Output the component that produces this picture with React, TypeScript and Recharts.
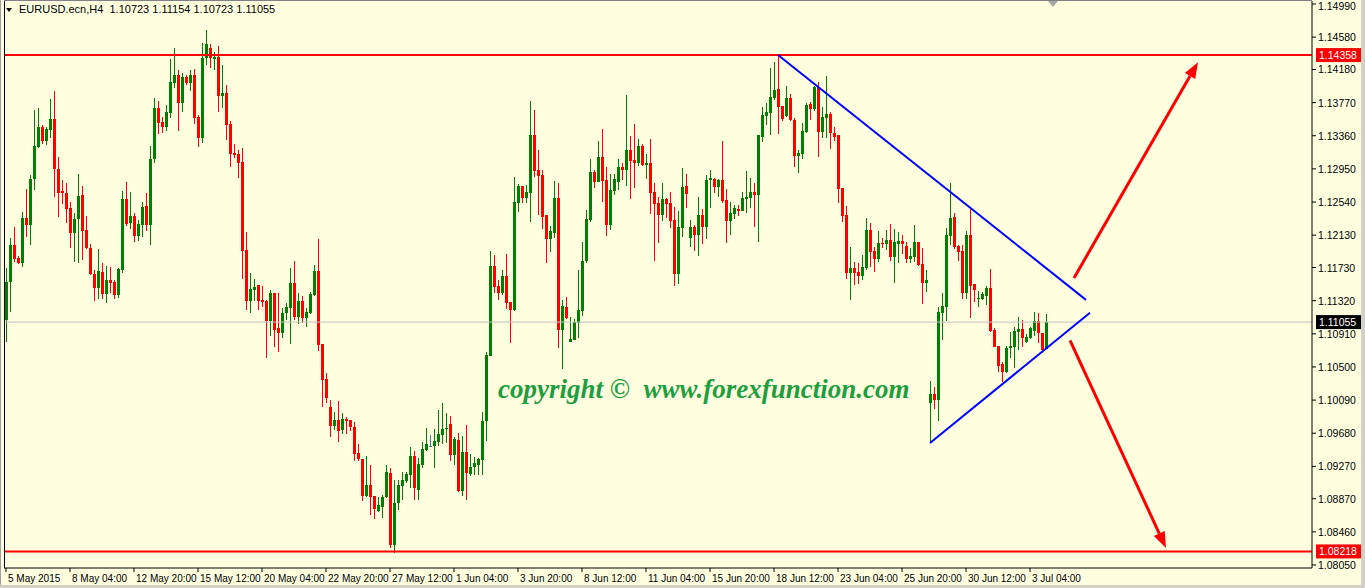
import React from 'react';
import { ComposedChart, Bar, XAxis, YAxis, ReferenceLine } from 'recharts';

// EURUSD H4, 5 May - 3 Jul 2015
const opens = [
  1.11082, 1.11552, 1.12009, 1.11849, 1.11787, 1.12343, 1.12257, 1.12826, 1.13222, 1.13469,
  1.13296, 1.13432, 1.13568, 1.12949, 1.12677, 1.12653, 1.12467, 1.12158, 1.12331, 1.12628,
  1.12195, 1.11972, 1.11651, 1.11477, 1.11675, 1.11403, 1.11576, 1.11552, 1.11391, 1.11700,
  1.12578, 1.12281, 1.12368, 1.12121, 1.12257, 1.12492, 1.12257, 1.13073, 1.13704, 1.13531,
  1.13469, 1.13642, 1.14013, 1.14112, 1.13766, 1.14088, 1.14013, 1.14112, 1.13593, 1.13333,
  1.14323, 1.14446, 1.14310, 1.14335, 1.13852, 1.13890, 1.13506, 1.13147, 1.13135, 1.13036,
  1.11947, 1.11317, 1.11453, 1.11515, 1.11329, 1.11317, 1.11069, 1.11416, 1.10983, 1.10921,
  1.11168, 1.11230, 1.11539, 1.11119, 1.11317, 1.11106, 1.11168, 1.11391, 1.11688, 1.10785,
  1.10352, 1.10005, 1.09770, 1.09845, 1.09721, 1.09857, 1.09845, 1.09758, 1.09436, 1.09362,
  1.08904, 1.09041, 1.08904, 1.08719, 1.08768, 1.08892, 1.09189, 1.08298, 1.08818, 1.09028,
  1.09090, 1.09164, 1.09399, 1.08979, 1.09288, 1.09473, 1.09523, 1.09523, 1.09572, 1.09659,
  1.09733, 1.09795, 1.09412, 1.09597, 1.08966, 1.09449, 1.09177, 1.09263, 1.09288, 1.09350,
  1.09832, 1.10636, 1.11750, 1.11502, 1.11416, 1.11626, 1.11304, 1.11205, 1.12529, 1.12739,
  1.12591, 1.12653, 1.13370, 1.12937, 1.12875, 1.12380, 1.12084, 1.12158, 1.12591, 1.10958,
  1.11242, 1.10809, 1.10834, 1.11044, 1.11193, 1.11811, 1.12319, 1.12912, 1.12789, 1.13098,
  1.12813, 1.12257, 1.12677, 1.12789, 1.12974, 1.12937, 1.13185, 1.13061, 1.13024, 1.13234,
  1.12999, 1.13024, 1.12665, 1.12529, 1.12380, 1.12578, 1.12529, 1.12319, 1.11651, 1.12220,
  1.12739, 1.12096, 1.12232, 1.12133, 1.12380, 1.12232, 1.12813, 1.12826, 1.12727, 1.12813,
  1.12566, 1.12306, 1.12393, 1.12455, 1.12430, 1.12578, 1.12591, 1.12665, 1.12628, 1.13345,
  1.13605, 1.13642, 1.13828, 1.13939, 1.13729, 1.13605, 1.13828, 1.13556, 1.13110, 1.13135,
  1.13407, 1.13754, 1.13692, 1.13964, 1.13407, 1.13580, 1.13630, 1.13395, 1.13370, 1.12714,
  1.12380, 1.11663, 1.11725, 1.11675, 1.11626, 1.11725, 1.12195, 1.11935, 1.11836, 1.12034,
  1.12022, 1.12071, 1.11861, 1.12022, 1.12059, 1.11997, 1.11836, 1.11861, 1.12046, 1.11774,
  1.11539, 1.10055, 1.10166, 1.10092, 1.11168, 1.11242, 1.12121, 1.12356, 1.11997, 1.11935,
  1.11416, 1.12133, 1.11527, 1.11341, 1.11341, 1.11378, 1.11477, 1.10958, 1.10760, 1.10537,
  1.10438, 1.10735, 1.10748, 1.10933, 1.10970, 1.10809, 1.10859, 1.10946, 1.11069, 1.10921,
  1.10723,
];

const highs = [
  1.11725, 1.12096, 1.12232, 1.11873, 1.12418, 1.12702, 1.12875, 1.13679, 1.13704, 1.13494,
  1.13469, 1.13815, 1.13914, 1.13098, 1.12813, 1.12776, 1.12541, 1.12405, 1.12888, 1.12739,
  1.12368, 1.12022, 1.11700, 1.11960, 1.11787, 1.11750, 1.11737, 1.11576, 1.11725, 1.12677,
  1.12789, 1.12665, 1.12405, 1.12319, 1.12541, 1.12653, 1.13234, 1.13828, 1.13791, 1.13593,
  1.13741, 1.14310, 1.14446, 1.14174, 1.14137, 1.14112, 1.14174, 1.14186, 1.13617, 1.14508,
  1.14669, 1.14496, 1.14397, 1.14471, 1.14236, 1.13989, 1.13543, 1.13259, 1.13184, 1.13209,
  1.12170, 1.11663, 1.11589, 1.11515, 1.11502, 1.11329, 1.11453, 1.11416, 1.11416, 1.11230,
  1.11292, 1.11725, 1.11811, 1.11416, 1.11378, 1.11230, 1.11428, 1.11762, 1.12084, 1.10785,
  1.10426, 1.10092, 1.09944, 1.10080, 1.09931, 1.09882, 1.09845, 1.09820, 1.09548, 1.09362,
  1.09399, 1.09288, 1.08904, 1.08892, 1.08917, 1.09288, 1.09251, 1.09102, 1.09102, 1.09201,
  1.09201, 1.09511, 1.09461, 1.09375, 1.09572, 1.09746, 1.09659, 1.09733, 1.09968, 1.10055,
  1.09931, 1.09894, 1.09634, 1.09684, 1.09647, 1.09783, 1.09424, 1.09387, 1.09375, 1.09944,
  1.10686, 1.11935, 1.11886, 1.11576, 1.11700, 1.11898, 1.11304, 1.12851, 1.12764, 1.12739,
  1.12752, 1.13791, 1.13679, 1.13185, 1.12937, 1.12380, 1.12244, 1.12801, 1.12776, 1.11329,
  1.11366, 1.11119, 1.11094, 1.11700, 1.12046, 1.12442, 1.13073, 1.12937, 1.13296, 1.13444,
  1.12974, 1.12888, 1.12888, 1.13073, 1.13024, 1.13865, 1.13358, 1.13506, 1.13321, 1.13259,
  1.13135, 1.13321, 1.12776, 1.12603, 1.12776, 1.12591, 1.12665, 1.12479, 1.12430, 1.12962,
  1.12888, 1.12319, 1.12257, 1.12603, 1.12455, 1.12875, 1.12937, 1.12838, 1.12826, 1.13296,
  1.12702, 1.12541, 1.12504, 1.12504, 1.12665, 1.12925, 1.12838, 1.12776, 1.13370, 1.13716,
  1.13766, 1.14199, 1.14273, 1.14355, 1.13729, 1.13976, 1.13877, 1.13580, 1.13185, 1.13518,
  1.13766, 1.13778, 1.13976, 1.14026, 1.13716, 1.14100, 1.13655, 1.13469, 1.13370, 1.12714,
  1.12492, 1.11985, 1.11799, 1.11787, 1.11886, 1.12343, 1.12281, 1.11985, 1.12183, 1.12096,
  1.12195, 1.12269, 1.12207, 1.12170, 1.12133, 1.12046, 1.11972, 1.12257, 1.12046, 1.11972,
  1.11700, 1.10327, 1.10253, 1.11242, 1.11416, 1.12220, 1.12776, 1.12405, 1.12009, 1.12009,
  1.12183, 1.12467, 1.11527, 1.11440, 1.11428, 1.11502, 1.11712, 1.10983, 1.10760, 1.10562,
  1.10760, 1.10933, 1.10995, 1.11119, 1.11082, 1.10908, 1.10995, 1.11181, 1.11168, 1.10921,
  1.11154,
];

const lows = [
  1.10809, 1.11181, 1.11799, 1.11774, 1.11737, 1.12108, 1.12009, 1.12690, 1.13209, 1.13259,
  1.13246, 1.13333, 1.12603, 1.12356, 1.12517, 1.12281, 1.11972, 1.11799, 1.11787, 1.11824,
  1.11960, 1.11638, 1.11317, 1.11341, 1.11341, 1.11292, 1.11416, 1.11341, 1.11354, 1.11663,
  1.12244, 1.12207, 1.12046, 1.12059, 1.12108, 1.12183, 1.12009, 1.13024, 1.13382, 1.13395,
  1.13420, 1.13580, 1.13951, 1.13420, 1.13655, 1.13989, 1.13914, 1.13506, 1.13222, 1.13271,
  1.14236, 1.14199, 1.14174, 1.13655, 1.13704, 1.13308, 1.12974, 1.13086, 1.12838, 1.11589,
  1.11205, 1.11168, 1.11317, 1.11205, 1.11242, 1.10612, 1.10884, 1.10748, 1.10686, 1.10859,
  1.11082, 1.10785, 1.11082, 1.11032, 1.11044, 1.10995, 1.11156, 1.11378, 1.10698, 1.10005,
  1.10055, 1.09634, 1.09721, 1.09572, 1.09671, 1.09671, 1.09709, 1.09337, 1.09337, 1.08843,
  1.08892, 1.08669, 1.08620, 1.08707, 1.08632, 1.08880, 1.08261, 1.08195, 1.08731, 1.08855,
  1.09065, 1.09003, 1.08855, 1.08855, 1.09251, 1.09461, 1.09511, 1.09251, 1.09523, 1.09548,
  1.09560, 1.09337, 1.09288, 1.08954, 1.08904, 1.08855, 1.09152, 1.09164, 1.09164, 1.09164,
  1.09585, 1.10636, 1.11416, 1.11329, 1.11391, 1.11218, 1.10797, 1.11193, 1.12418, 1.12529,
  1.12529, 1.12294, 1.12851, 1.12380, 1.12207, 1.11787, 1.11923, 1.12096, 1.10735, 1.10475,
  1.11094, 1.10809, 1.10834, 1.10859, 1.11131, 1.11787, 1.12294, 1.12714, 1.12789, 1.12541,
  1.12121, 1.12195, 1.12628, 1.12690, 1.12813, 1.12739, 1.12578, 1.12714, 1.12987, 1.12987,
  1.12826, 1.12393, 1.11811, 1.12034, 1.12306, 1.12343, 1.12220, 1.11502, 1.11527, 1.12108,
  1.12467, 1.11985, 1.11935, 1.11873, 1.12022, 1.12084, 1.12467, 1.12653, 1.12603, 1.12529,
  1.12034, 1.12133, 1.12331, 1.12368, 1.12430, 1.12405, 1.12467, 1.12232, 1.12046, 1.13283,
  1.13494, 1.13370, 1.13803, 1.13382, 1.13543, 1.13593, 1.13543, 1.12974, 1.12900, 1.13073,
  1.13395, 1.13556, 1.13667, 1.13098, 1.13333, 1.13333, 1.13197, 1.13296, 1.12529, 1.12294,
  1.11589, 1.11329, 1.11515, 1.11527, 1.11576, 1.11700, 1.11737, 1.11675, 1.11799, 1.11972,
  1.11947, 1.11811, 1.11539, 1.11787, 1.11898, 1.11787, 1.11787, 1.11799, 1.11750, 1.11280,
  1.11428, 1.09560, 1.09981, 1.09832, 1.10834, 1.11069, 1.12009, 1.11960, 1.11811, 1.11341,
  1.11341, 1.11106, 1.11304, 1.11242, 1.11329, 1.11267, 1.10933, 1.10748, 1.10438, 1.10315,
  1.10426, 1.10612, 1.10488, 1.10710, 1.10748, 1.10797, 1.10847, 1.10884, 1.10797, 1.10673,
  1.10723,
];

const closes = [
  1.11552, 1.12009, 1.11836, 1.11787, 1.12343, 1.12257, 1.12826, 1.13234, 1.13469, 1.13296,
  1.13444, 1.13568, 1.12949, 1.12653, 1.12653, 1.12455, 1.12158, 1.12331, 1.12615, 1.12183,
  1.11972, 1.11651, 1.11477, 1.11688, 1.11403, 1.11576, 1.11539, 1.11391, 1.11712, 1.12578,
  1.12269, 1.12368, 1.12121, 1.12269, 1.12479, 1.12257, 1.13073, 1.13704, 1.13518, 1.13469,
  1.13655, 1.14026, 1.14112, 1.13766, 1.14088, 1.14013, 1.14112, 1.13580, 1.13333, 1.14323,
  1.14496, 1.14323, 1.14335, 1.13852, 1.13890, 1.13494, 1.13135, 1.13123, 1.13024, 1.11935,
  1.11317, 1.11465, 1.11490, 1.11317, 1.11304, 1.11069, 1.11416, 1.10958, 1.10921, 1.11168,
  1.11242, 1.11539, 1.11119, 1.11317, 1.11106, 1.11181, 1.11403, 1.11688, 1.10772, 1.10339,
  1.10117, 1.09770, 1.09845, 1.09709, 1.09857, 1.09832, 1.09758, 1.09424, 1.09362, 1.08904,
  1.09041, 1.08892, 1.08744, 1.08793, 1.08892, 1.09201, 1.08298, 1.08818, 1.09041, 1.09102,
  1.09177, 1.09399, 1.09003, 1.09300, 1.09486, 1.09548, 1.09523, 1.09585, 1.09671, 1.09733,
  1.09746, 1.09412, 1.09610, 1.08966, 1.09449, 1.09189, 1.09263, 1.09313, 1.09362, 1.09832,
  1.10649, 1.11750, 1.11490, 1.11416, 1.11626, 1.11292, 1.11205, 1.12541, 1.12739, 1.12591,
  1.12665, 1.13370, 1.12925, 1.12863, 1.12356, 1.12084, 1.12183, 1.12591, 1.10958, 1.11255,
  1.11106, 1.10847, 1.11057, 1.11205, 1.11811, 1.12331, 1.12912, 1.12789, 1.13098, 1.12801,
  1.12257, 1.12690, 1.12826, 1.12974, 1.12937, 1.13185, 1.13048, 1.13024, 1.13234, 1.12999,
  1.13024, 1.12653, 1.12517, 1.12380, 1.12578, 1.12517, 1.12306, 1.11651, 1.12232, 1.12727,
  1.12640, 1.12232, 1.12133, 1.12380, 1.12232, 1.12813, 1.12838, 1.12727, 1.12813, 1.12554,
  1.12306, 1.12405, 1.12467, 1.12430, 1.12591, 1.12603, 1.12665, 1.12628, 1.13370, 1.13617,
  1.13655, 1.13840, 1.13927, 1.13716, 1.13568, 1.13828, 1.13556, 1.13110, 1.13147, 1.13420,
  1.13741, 1.13692, 1.13964, 1.13407, 1.13593, 1.13630, 1.13395, 1.13345, 1.12702, 1.12368,
  1.11663, 1.11725, 1.11663, 1.11626, 1.11737, 1.12195, 1.11923, 1.11836, 1.12034, 1.12022,
  1.12071, 1.11861, 1.12046, 1.12059, 1.12022, 1.11836, 1.11873, 1.12046, 1.11762, 1.11539,
  1.11576, 1.10166, 1.10092, 1.11181, 1.11255, 1.12133, 1.12343, 1.11985, 1.11923, 1.11416,
  1.12133, 1.11502, 1.11453, 1.11354, 1.11403, 1.11477, 1.10946, 1.10748, 1.10513, 1.10438,
  1.10735, 1.10760, 1.10946, 1.10970, 1.10859, 1.10871, 1.10983, 1.11069, 1.10921, 1.10710,
  1.11055,
];

const timeLabels = [
  '5 May 2015', '8 May 04:00', '12 May 20:00', '15 May 12:00', '20 May 04:00', '22 May 20:00',
  '27 May 12:00', '1 Jun 04:00', '3 Jun 20:00', '8 Jun 12:00', '11 Jun 04:00', '15 Jun 20:00',
  '18 Jun 12:00', '23 Jun 04:00', '25 Jun 20:00', '30 Jun 12:00', '3 Jul 04:00',
];
const timeLabelBars = [0, 16, 32, 48, 64, 80, 96, 112, 128, 144, 160, 176, 192, 208, 224, 240, 256];

const priceTicks = [
  1.1499, 1.1458, 1.1418, 1.1377, 1.1336, 1.1295, 1.1254, 1.1213, 1.1173,
  1.1132, 1.1091, 1.105, 1.1009, 1.0968, 1.0927, 1.0887, 1.0846, 1.0805,
];

const resistance = 1.14358;
const support = 1.08218;
const lastPrice = 1.11055;
const upperTrend = [{ x: 193, y: 1.1436 }, { x: 270, y: 1.1133 }];
const lowerTrend = [{ x: 231, y: 1.0956 }, { x: 271, y: 1.1117 }];
const arrowUp = [{ x: 267, y: 1.116 }, { x: 298, y: 1.1427 }];
const arrowDown = [{ x: 266, y: 1.1083 }, { x: 290, y: 1.0826 }];
const totalSlots = 327;

const BG = '#FFFFE0';
const BULL = '#008000';
const BEAR = '#FF0000';
const DOJI = '#2E7DB5';
const AXIS_FONT = '"Liberation Sans", Arial, sans-serif';

const data = Array.from({ length: totalSlots }, (_, i) =>
  i < opens.length
    ? { i, o: opens[i], h: highs[i], l: lows[i], c: closes[i], range: [lows[i], highs[i]] }
    : { i }
);

function Candle(props: any) {
  const { x, y, width, height, payload } = props;
  if (!payload || payload.o == null || y == null) return null;
  const { o, h, l, c } = payload;
  const top = Math.min(y, y + height);
  const bottom = Math.max(y, y + height);
  const span = h - l;
  const toPx = (v: number) => (span > 0 ? top + ((h - v) / span) * (bottom - top) : top);
  const color = c > o ? BULL : c < o ? BEAR : DOJI;
  const left = Math.round(x + width / 2 - 1.5);
  const bodyTop = Math.round(toPx(Math.max(o, c)));
  const bodyBottom = Math.max(bodyTop + 1, Math.round(toPx(Math.min(o, c))));
  const wTop = Math.round(top);
  const wBottom = Math.max(wTop + 1, Math.round(bottom));
  return (
    <g>
      <rect x={left + 1} y={wTop} width={1} height={wBottom - wTop} fill={color} />
      <rect x={left} y={bodyTop} width={3} height={bodyBottom - bodyTop} fill={color} />
    </g>
  );
}

const TimeTick = (props: any) => {
  const { x, y, payload } = props;
  const idx = timeLabelBars.indexOf(payload.value);
  return (
    <text x={x + 2} y={y + 8} fontSize={10} fontFamily={AXIS_FONT} fill="#000" textAnchor="start">
      {idx >= 0 ? timeLabels[idx] : ''}
    </text>
  );
};

const PriceTick = (props: any) => {
  const { x, y, payload } = props;
  // keep the topmost label inside the picture
  const ty = Math.max(y + 4, 10);
  return (
    <text x={x} y={ty} fontSize={10.5} fontFamily={AXIS_FONT} fill="#000" textAnchor="start">
      {Number(payload.value).toFixed(5)}
    </text>
  );
};

const priceBox = (color: string, value: number) => (props: any) => {
  const vb = props.viewBox || {};
  const bx = vb.x + vb.width + 4;
  const by = vb.y;
  return (
    <g>
      <rect x={bx} y={by - 7} width={46} height={14} fill={color} />
      <text x={bx + 3} y={by + 4} fontSize={10.5} fontFamily={AXIS_FONT} fill="#fff">
        {value.toFixed(5)}
      </text>
    </g>
  );
};

const Arrow = (props: any) => {
  const { x1, y1, x2, y2 } = props;
  const ang = Math.atan2(y2 - y1, x2 - x1);
  const len = 16;
  const half = 6;
  const bx = x2 - len * Math.cos(ang);
  const by = y2 - len * Math.sin(ang);
  const px = -Math.sin(ang) * half;
  const py = Math.cos(ang) * half;
  return (
    <g>
      <line x1={x1} y1={y1} x2={bx} y2={by} stroke={BEAR} strokeWidth={3} />
      <polygon points={`${x2},${y2} ${bx + px},${by + py} ${bx - px},${by - py}`} fill={BEAR} />
    </g>
  );
};

export default function App() {
  return (
    <div style={{ position: 'relative', width: 1365, height: 588, background: BG, overflow: 'hidden' }}>
      <style>{'body{margin:0}'}</style>
      <ComposedChart width={1365} height={588} data={data} margin={{ top: 1, right: 0, bottom: 0, left: 4 }}>
        <XAxis
          dataKey="i"
          type="category"
          ticks={timeLabelBars}
          interval={0}
          height={20}
          tickSize={4}
          tick={<TimeTick />}
          axisLine={{ stroke: '#000' }}
          tickLine={{ stroke: '#000' }}
        />
        <YAxis
          orientation="right"
          type="number"
          domain={[1.08013, 1.15027]}
          allowDataOverflow
          ticks={priceTicks}
          interval={0}
          width={53}
          tickSize={4}
          tickMargin={2}
          tick={<PriceTick />}
          axisLine={{ stroke: '#000' }}
          tickLine={{ stroke: '#000' }}
        />
        <ReferenceLine y={lastPrice} stroke="#C0C0C0" strokeWidth={1} label={priceBox('#000', lastPrice)} />
        <ReferenceLine y={resistance} stroke={BEAR} strokeWidth={2} label={priceBox(BEAR, resistance)} />
        <ReferenceLine y={support} stroke={BEAR} strokeWidth={2} label={priceBox(BEAR, support)} />
        <Bar dataKey="range" barSize={3} shape={<Candle />} isAnimationActive={false} />
        <ReferenceLine segment={upperTrend} stroke="#0000FF" strokeWidth={2} />
        <ReferenceLine segment={lowerTrend} stroke="#0000FF" strokeWidth={2} />
        <ReferenceLine segment={arrowUp} shape={<Arrow />} />
        <ReferenceLine segment={arrowDown} shape={<Arrow />} />
      </ComposedChart>

      <div style={{ position: 'absolute', left: 4, top: 0, width: 1, height: 568, background: '#000' }} />
      <div style={{ position: 'absolute', left: 0, top: 0, width: 1, height: 588, background: '#A0A0A0' }} />
      <div style={{ position: 'absolute', left: 4, top: 0, width: 1308, height: 1, background: '#808080' }} />
      <div style={{ position: 'absolute', left: 1361, top: 0, width: 4, height: 588, background: '#D4D0C8' }} />
      <div style={{ position: 'absolute', left: 0, top: 585, width: 1365, height: 3, background: '#D4D0C8' }} />

      <div style={{ position: 'absolute', left: 6, top: 8, width: 0, height: 0, borderLeft: '3px solid transparent', borderRight: '3px solid transparent', borderTop: '4px solid #000' }} />
      <div style={{ position: 'absolute', left: 19, top: 3, fontFamily: AXIS_FONT, fontSize: 11, color: '#000', whiteSpace: 'pre' }}>
        {'EURUSD.ecn,H4  1.10723 1.11154 1.10723 1.11055'}
      </div>
      <div style={{ position: 'absolute', left: 1048, top: 1, width: 0, height: 0, borderLeft: '5px solid transparent', borderRight: '5px solid transparent', borderTop: '6px solid #A8A8A8' }} />

      <div
        style={{
          position: 'absolute',
          left: 498,
          top: 374,
          fontFamily: '"Liberation Serif", "Times New Roman", serif',
          fontWeight: 'bold',
          fontStyle: 'italic',
          fontSize: 27,
          lineHeight: '30px',
          color: '#1E9E3E',
          whiteSpace: 'pre',
        }}
      >
        {'copyright \u00A9  www.forexfunction.com'}
      </div>
    </div>
  );
}
